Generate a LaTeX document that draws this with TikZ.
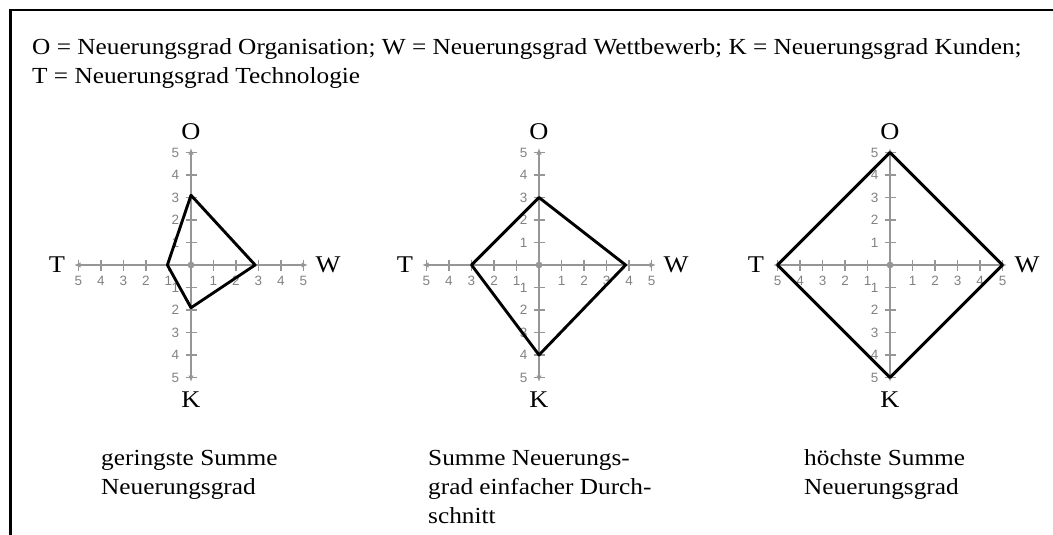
\documentclass[tikz,border=0pt]{standalone}
\usepackage{fontspec}
\setmainfont{Liberation Serif}[FakeStretch=1.1]
\newfontfamily\ticksans{Liberation Sans}
\usetikzlibrary{arrows.meta}
\definecolor{axisgray}{RGB}{150,150,150}
\definecolor{ticklabelgray}{RGB}{130,130,130}
\tikzset{
 axisline/.style={draw=axisgray, line width=1.6pt, {Latex[length=6.5pt,width=5.5pt]}-{Latex[length=6.5pt,width=5.5pt]}},
 tickmark/.style={draw=axisgray, line width=1.3pt},
 ticklbl/.style={text=ticklabelgray, font=\ticksans\fontsize{13.5}{13.5}\selectfont, inner sep=0pt},
 axislbl/.style={font=\fontsize{24}{24}\selectfont, inner sep=0pt},
 profile/.style={draw=black, line width=2.9pt, line join=round},
 txt/.style={font=\fontsize{23}{29}\selectfont, inner sep=0pt, anchor=base west},
 frameline/.style={draw=black, line width=2.5pt},
}
\newcommand\radarchart[6]{%
\begin{scope}[shift={(#2,265)}]
 \draw[axisline] (-117,0) -- (117,0);
 \draw[axisline] (0,-117) -- (0,117);
 \foreach \i in {1,...,5}{
   \draw[tickmark] (\i*22.5,-5.5) -- (\i*22.5,5.5);
   \draw[tickmark] (-\i*22.5,-5.5) -- (-\i*22.5,5.5);
   \draw[tickmark] (-5.5,\i*22.5) -- (5.5,\i*22.5);
   \draw[tickmark] (-5.5,-\i*22.5) -- (5.5,-\i*22.5);
   \node[ticklbl] (#1xp\i) at (\i*22.5,15.5) {\i};
   \node[ticklbl] (#1xn\i) at (-\i*22.5,15.5) {\i};
   \node[ticklbl] (#1yp\i) at (-15.5,-\i*22.5) {\i};
   \node[ticklbl] (#1yn\i) at (-15.5,\i*22.5) {\i};
 }
 \fill[axisgray] (0,0) circle (3.4pt);
 \node[axislbl] (#1O) at (0,-133) {O};
 \node[axislbl] (#1K) at (0,135) {K};
 \node[axislbl] (#1T) at (-134,0) {T};
 \node[axislbl] (#1W) at (137,0) {W};
 \coordinate (#1pO) at (0,-#3*22.5);
 \coordinate (#1pW) at (#4*22.5,0);
 \coordinate (#1pK) at (0,#5*22.5);
 \coordinate (#1pT) at (-#6*22.5,0);
 \draw[profile] (#1pO) -- (#1pW) -- (#1pK) -- (#1pT) -- cycle;
\end{scope}}
\begin{document}
\begin{tikzpicture}[x=1pt,y=-1pt]
\useasboundingbox (0,0) rectangle (1053,535);
\fill[white] (0,0) rectangle (1053,535);
\coordinate (fbl) at (10.5,535);
\coordinate (ftl) at (10.5,10);
\coordinate (ftr) at (1053,10);
\draw[frameline] (fbl) -- (ftl) -- (ftr);
\node[txt] (hdrA) at (32,55) {O = Neuerungsgrad Organisation; W = Neuerungsgrad Wettbewerb; K = Neuerungsgrad Kunden;};
\node[txt] (hdrB) at (32,84) {T = Neuerungsgrad Technologie};
\radarchart{a}{191}{3.1}{2.85}{1.9}{1.05}
\radarchart{b}{539}{3}{3.85}{4}{3}
\radarchart{c}{890}{5}{5}{5}{5}
\node[txt] (capAa) at (101,465) {geringste Summe};
\node[txt] (capAb) at (101,494) {Neuerungsgrad};
\node[txt] (capBa) at (428,465) {Summe Neuerungs-};
\node[txt] (capBb) at (428,494) {grad einfacher Durch-};
\node[txt] (capBc) at (428,523) {schnitt};
\node[txt] (capCa) at (804,465) {höchste Summe};
\node[txt] (capCb) at (804,494) {Neuerungsgrad};
\end{tikzpicture}
\end{document}
